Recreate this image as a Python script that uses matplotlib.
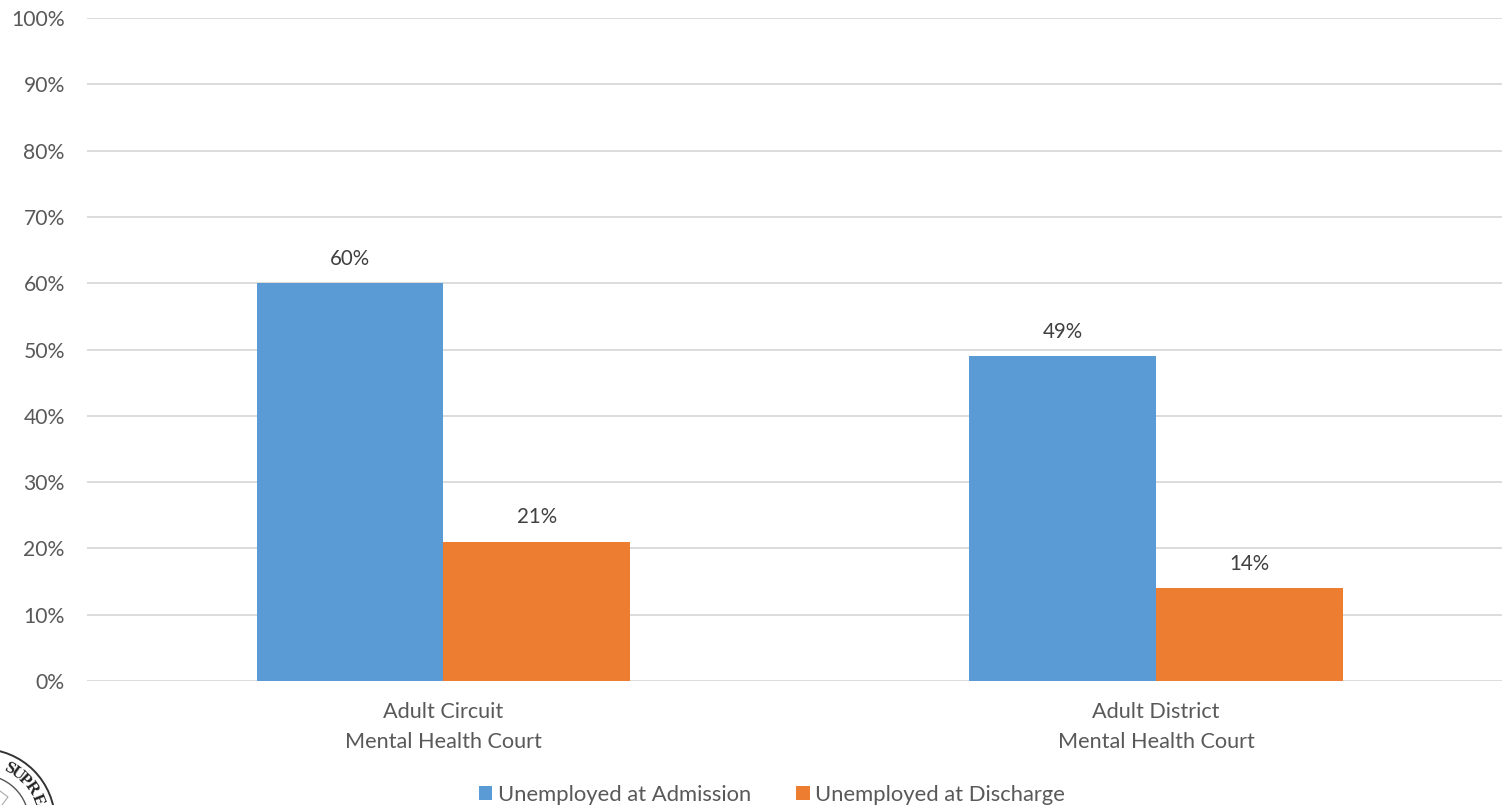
import numpy as np
import matplotlib
matplotlib.use("Agg")
import matplotlib.pyplot as plt
from matplotlib.patches import Circle

categories = ["Adult Circuit\nMental Health Court", "Adult District\nMental Health Court"]
admission = [60, 49]
discharge = [21, 14]
series_names = ["Unemployed at Admission", "Unemployed at Discharge"]
yticks = list(range(0, 101, 10))

W, H = 1502, 805
BLUE = "#5b9bd5"
ORANGE = "#ed7d31"
TEXT = "#595959"

plt.rcParams["font.family"] = ["Lato", "DejaVu Sans"]

fig = plt.figure(figsize=(W / 100, H / 100), dpi=100)
ax = fig.add_axes([87 / W, 1 - 681 / H, (W - 87) / W, (681 - 18) / H])

x = np.arange(len(categories))
bw = 0.2618
b1 = ax.bar(x - bw / 2, admission, bw, color=BLUE, label=series_names[0], zorder=2)
b2 = ax.bar(x + bw / 2, discharge, bw, color=ORANGE, label=series_names[1], zorder=2)

for bars, vals in ((b1, admission), (b2, discharge)):
    for r, v in zip(bars, vals):
        ax.annotate("%d%%" % v, (r.get_x() + r.get_width() / 2, v), xytext=(0, 17.5),
                    textcoords="offset points", ha="center", va="center",
                    fontsize=14.8, color="#404040")

ax.set_xlim(-0.5, 1.4856)
ax.set_ylim(0, 100)
ax.set_yticks(yticks)
ax.set_yticklabels(["%d%%" % t for t in yticks], fontsize=15.2, color=TEXT)
ax.set_xticks(x)
ax.set_xticklabels(categories, fontsize=15.6, color=TEXT, linespacing=1.62)
ax.tick_params(axis="both", length=0)
ax.tick_params(axis="y", pad=16)
ax.tick_params(axis="x", pad=15)
ax.grid(axis="y", color="#d9d9d9", linewidth=1.3, zorder=0)
ax.set_axisbelow(True)
for s in ax.spines.values():
    s.set_visible(False)

fig.legend(handles=[b1, b2], loc="center", bbox_to_anchor=(772 / W, 1 - 795 / H), ncol=2,
           frameon=False, fontsize=15.8, labelcolor=TEXT, handlelength=0.63, handleheight=0.63,
           handletextpad=0.25, columnspacing=2.05)

# cropped court seal in the lower left corner
seal = fig.add_axes([0, 0, 1, 1], facecolor="none")
seal.set_xlim(0, W)
seal.set_ylim(H, 0)
seal.axis("off")
cx, cy = -18, 822
seal.add_patch(Circle((cx, cy), 73, fill=False, ec="#333333", lw=1.4))
seal.add_patch(Circle((cx, cy), 47, fill=False, ec="#555555", lw=1.0))
seal.plot([0, 8, 2], [791, 797, 805], color="#aaaaaa", lw=0.8)
for ch, ang in zip("SUPRE", [63, 54, 45, 34, 22]):
    a = np.deg2rad(ang)
    seal.text(cx + 60 * np.cos(a), cy - 60 * np.sin(a), ch, rotation=ang - 90,
              rotation_mode="anchor", ha="center", va="center", fontsize=12.5,
              fontweight="bold", family="Liberation Serif", color="#222222")

fig.savefig("out.png", dpi=100)
